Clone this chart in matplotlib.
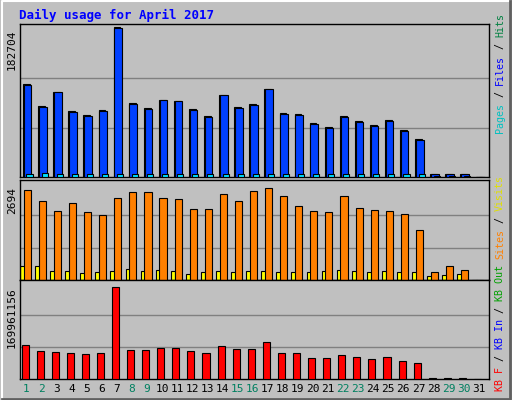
import matplotlib
matplotlib.use("Agg")
import matplotlib.pyplot as plt
import numpy as np

days = list(range(1, 32))
weekend = [1, 2, 8, 9, 15, 16, 22, 23, 29, 30]
files = [112340, 86415, 103698, 80243, 75305, 81477, 182704, 90119, 83946, 93822, 92588, 82712, 74070, 99994,
         85181, 88884, 107402, 77774, 76539, 65429, 60491, 74070, 67898, 62960, 69132, 56787, 45677, 3704, 3704, 3704, 0]
hits = [v * 1.01 for v in files]
pages = [3700, 5500, 3700, 3700, 3700, 3700, 3700, 3700, 3700, 3700, 3700, 3700, 3700, 3700, 3700, 3700, 3700,
         3700, 3700, 3700, 3700, 3700, 3700, 3700, 3700, 3700, 3700, 1200, 1200, 1200, 0]
sites = [2607, 2289, 1999, 2231, 1970, 1883, 2376, 2549, 2549, 2376, 2347, 2057, 2057, 2491, 2289, 2578, 2665,
         2434, 2144, 1999, 1970, 2434, 2086, 2028, 1999, 1912, 1449, 232, 406, 290, 0]
visits = [406, 406, 261, 261, 203, 232, 261, 319, 261, 290, 261, 174, 232, 261, 232, 261, 261, 232, 232, 232,
          261, 290, 261, 232, 261, 232, 232, 116, 145, 174, 0]
kbf = [p * 1847404 for p in [34, 28, 27, 26, 25, 26, 92, 29, 29, 31, 31, 28, 26, 33, 30, 30, 37, 26, 26, 21, 21,
                             24, 22, 20, 22, 18, 16, 1, 1, 1, 0]]

BG = "#C0C0C0"
fig = plt.figure(figsize=(5.12, 4.0), dpi=100, facecolor=BG)
W, H = 512, 400
def ax_px(x0, y0, x1, y1):
    return fig.add_axes([x0 / W, 1 - y1 / H, (x1 - x0) / W, (y1 - y0) / H])

mono = "DejaVu Sans Mono"
fig.text(19 / W, 1 - 15 / H, "Daily usage for April 2017", color="#0000FF", fontsize=9, fontweight="bold",
         family=mono, va="center")

x = np.array(days, dtype=float)
xl = (0.45, 31.55)

def setup(ax, top):
    ax.set_facecolor(BG)
    ax.set_xlim(*xl)
    ax.set_ylim(0, top)
    ax.set_xticks([]); ax.set_yticks([])
    for s in ax.spines.values():
        s.set_color("black"); s.set_linewidth(1)
    for f in (1 / 3, 2 / 3):
        ax.axhline(top * f * 0.97, color="#808080", lw=1, zorder=0)

ax1 = ax_px(20, 24, 489, 177)
t1 = 182704 * 153 / 149
setup(ax1, t1)
ax1.bar(x - 0.34, hits, width=0.45, color="#00C000", edgecolor="black", lw=0.8, align="edge", zorder=2)
ax1.bar(x - 0.29, files, width=0.5, color="#0040FF", edgecolor="black", lw=0.8, align="edge", zorder=3)
ax1.bar(x - 0.12, pages, width=0.4, color="#00E0FF", edgecolor="black", lw=0.8, align="edge", zorder=4)
fig.text(12 / W, 1 - 50 / H, "182704", rotation=90, fontsize=8, family=mono, va="center", ha="center")

ax2 = ax_px(20, 180, 489, 280)
t2 = 2694 * 100 / 93
setup(ax2, t2)
ax2.bar(x - 0.55, visits, width=0.3, color="#FFFF00", edgecolor="black", lw=0.8, align="edge", zorder=2)
ax2.bar(x - 0.3, sites, width=0.47, color="#FF8000", edgecolor="black", lw=0.8, align="edge", zorder=3)
fig.text(12 / W, 1 - 200 / H, "2694", rotation=90, fontsize=8, family=mono, va="center", ha="center")

ax3 = ax_px(20, 280, 489, 379)
t3 = 169961156 * 99 / 92
setup(ax3, t3)
ax3.bar(x - 0.45, kbf, width=0.47, color="#FF0000", edgecolor="black", lw=0.8, align="edge", zorder=3)
fig.text(12 / W, 1 - 318 / H, "169961156", rotation=90, fontsize=8, family=mono, va="center", ha="center")

for d in days:
    px = 20 + (d - xl[0]) / (xl[1] - xl[0]) * 469 - 2
    fig.text(px / W, 1 - 389 / H, str(d), fontsize=8, family=mono, ha="center", va="center",
             color="#008060" if d in weekend else "black")

FS = 7.2
CH = 0.602 * FS * 100 / 72

def vlegend(parts, ycenter):
    # parts: list of (text, color) bottom-to-top; spaces handled as gaps
    n = sum(len(p) for p, _ in parts)
    y = ycenter + n * CH / 2
    for txt, col in parts:
        s = txt.strip()
        lead = len(txt) - len(txt.lstrip())
        y0 = y - lead * CH
        yc = y0 - len(s) * CH / 2
        fig.text(500 / W, 1 - yc / H, s, rotation=90, fontsize=FS, family=mono, color=col,
                 ha="center", va="center")
        y -= len(txt) * CH

vlegend([("Pages", "#00C0C0"), (" /", "black"), (" Files", "#0000FF"), (" /", "black"), (" Hits", "#008040")], 73)
vlegend([("KB F", "#FF0000"), (" /", "black"), (" KB In", "#0000FF"), (" /", "black"), (" KB Out", "#00A000"),
         (" Sites", "#FF8000"), (" /", "black"), (" Visits", "#E0E000")], 283)

fig.add_artist(plt.Line2D([0.003, 0.003, 0.997], [0.003, 0.997, 0.997], color="white", lw=1.5, transform=fig.transFigure))
fig.add_artist(plt.Line2D([0.003, 0.997, 0.997], [0.003, 0.003, 0.997], color="#606060", lw=2, transform=fig.transFigure))

fig.savefig("out.png", dpi=100, facecolor=BG)
